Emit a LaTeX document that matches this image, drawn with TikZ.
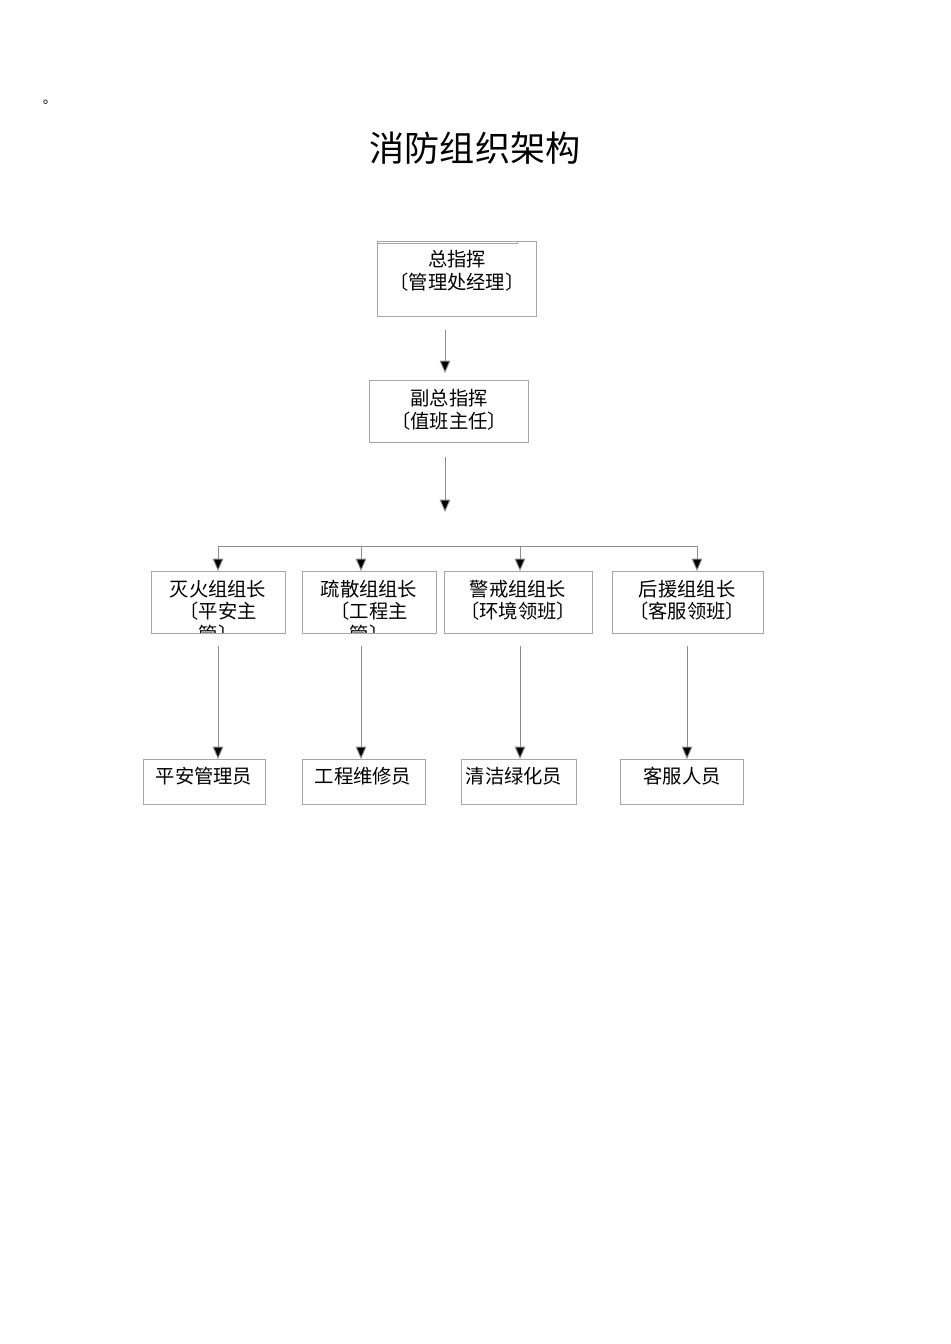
\documentclass[tikz,border=0pt]{standalone}
\usepackage{fontspec}
\setmainfont{Noto Sans CJK SC}
\usetikzlibrary{arrows.meta}
\begin{document}
\begin{tikzpicture}[x=0.02cm,y=-0.02cm,
  bx/.style={draw=black!35,line width=0.5pt,inner sep=0pt},
  tx/.style={font=\fontsize{11pt}{13pt}\selectfont,inner sep=0pt},
  ln/.style={draw=black!45,line width=0.5pt},
  ar/.style={ln,-{Triangle[length=7pt,width=6pt,fill=black]}}]
\useasboundingbox (0,0) rectangle (950,1344);
\node[font=\fontsize{8pt}{9pt}\selectfont] (dot) at (50,102) {。};
\node[font=\fontsize{20pt}{24pt}\selectfont] (title) at (475,148) {消防组织架构};
% boxes
\node[bx,minimum width=159\pgflinewidth,anchor=north west] (a) at (377,241) {};
\draw[draw=black!35] (377,241) rectangle (536,316);
\node[tx] (at1) at (457,259) {总指挥};
\node[tx] (at2) at (457,282) {〔管理处经理〕};
\draw[draw=black!35] (369,380) rectangle (528,442);
\node[tx] (bt1) at (449,398) {副总指挥};
\node[tx] (bt2) at (449,421) {〔值班主任〕};
\coordinate (a1) at (445,330); \coordinate (a2) at (445,373);
\coordinate (b1) at (445,457); \coordinate (b2) at (445,512);
\draw[ar] (a1) -- (a2);
\draw[ar] (b1) -- (b2);
\draw[ln] (218,546) coordinate (busl) -- (697,546) coordinate (busr);
\foreach \x in {218,361,520,697} \draw[ar] (\x,546) -- (\x,571);
% row 3
\draw[draw=black!35] (151,571) rectangle (285,633);
\draw[draw=black!35] (302,571) rectangle (436,633);
\draw[draw=black!35] (444,571) rectangle (592,633);
\draw[draw=black!35] (612,571) rectangle (763,633);
\node[tx] (c1a) at (218,589) {灭火组组长};
\node[tx] (c2a) at (369,589) {疏散组组长};
\node[tx] (c3a) at (518,589) {警戒组组长};
\node[tx] (c4a) at (687,589) {后援组组长};
\node[tx] (c3b) at (518,611) {〔环境领班〕};
\node[tx] (c4b) at (687,611) {〔客服领班〕};
\begin{scope}
\clip (151,571) rectangle (436,632);
\node[tx] (c1b) at (218,611) {〔平安主};
\node[tx] (c2b) at (369,611) {〔工程主};
\node[tx] (c1c) at (218,634) {管〕};
\node[tx] (c2c) at (369,634) {管〕};
\end{scope}
% row 4
\draw[draw=black!35] (143,759) rectangle (265,804);
\draw[draw=black!35] (302,759) rectangle (425,804);
\draw[draw=black!35] (461,759) rectangle (576,804);
\draw[draw=black!35] (620,759) rectangle (743,804);
\node[tx] (d1) at (204,776) {平安管理员};
\node[tx] (d2) at (363,776) {工程维修员};
\node[tx] (d3) at (514,776) {清洁绿化员};
\node[tx] (d4) at (682,776) {客服人员};
\foreach \x in {218,361,520,687} \draw[ar] (\x,646) -- (\x,759);
\end{tikzpicture}
\end{document}
